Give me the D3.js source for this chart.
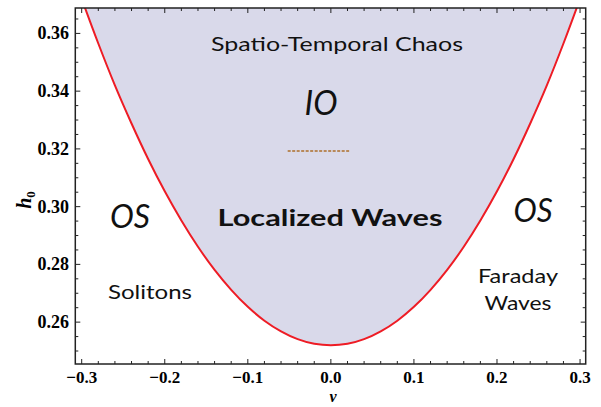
<!DOCTYPE html>
<html><head><meta charset="utf-8">
<script src="https://cdn.jsdelivr.net/npm/d3@7"></script>
<style>body{margin:0;background:#fff}
.serif{font-family:"Liberation Serif","Times New Roman","DejaVu Serif",serif;font-weight:bold}
.sans{font-family:Lato,"Open Sans",sans-serif}
</style>
</head><body>
<svg id="c" width="601" height="407"></svg>
<script>
// boundary curve (nu, h0)
const nuVals = [-0.31,-0.30,-0.28,-0.26,-0.24,-0.22,-0.20,-0.18,-0.16,-0.14,-0.12,-0.10,-0.08,-0.06,-0.04,-0.02,0.00,
                0.02,0.04,0.06,0.08,0.10,0.12,0.14,0.16,0.18,0.20,0.22,0.24,0.26,0.28,0.30,0.31];
const hVals  = [0.380,0.372,0.3565,0.342,0.3288,0.3165,0.3053,0.2952,0.2861,0.2781,0.2712,0.2653,0.2605,0.2568,0.2541,0.2525,0.2520,
                0.2525,0.2541,0.2568,0.2605,0.2653,0.2712,0.2781,0.2861,0.2952,0.3053,0.3165,0.3288,0.342,0.3565,0.372,0.380];
// dashed IO segment
const ioNu = [-0.052, 0.022];
const ioH = 0.3193;
const xTicks = [-0.3,-0.2,-0.1,0.0,0.1,0.2,0.3];
const xTickLabels = ["\u22120.3","\u22120.2","\u22120.1","0.0","0.1","0.2","0.3"];
const yTicks = [0.26,0.28,0.30,0.32,0.34,0.36];
const yTickLabels = ["0.26","0.28","0.30","0.32","0.34","0.36"];

const svg = d3.select("#c");
const L=75.3, R=585.7, T=8, B=364;
const x = d3.scaleLinear().domain([-0.3077,0.3068]).range([L,R]);
const y = d3.scaleLinear().domain([0.2455,0.3688]).range([B,T]);

svg.append("clipPath").attr("id","clip").append("rect")
  .attr("x",L).attr("y",T).attr("width",R-L).attr("height",B-T);

const pts = nuVals.map((v,i)=>[v,hVals[i]]);
const g = svg.append("g").attr("clip-path","url(#clip)");
g.append("path").datum(pts)
  .attr("d", d3.area().x(d=>x(d[0])).y0(T-5).y1(d=>y(d[1])).curve(d3.curveMonotoneX))
  .attr("fill","#d9d9ea");
g.append("path").datum(pts)
  .attr("d", d3.line().x(d=>x(d[0])).y(d=>y(d[1])).curve(d3.curveMonotoneX))
  .attr("fill","none").attr("stroke","#ee1c25").attr("stroke-width",2);
g.append("line").attr("x1",x(ioNu[0])).attr("x2",x(ioNu[1])).attr("y1",y(ioH)).attr("y2",y(ioH))
  .attr("stroke","#b8895a").attr("stroke-width",2).attr("stroke-dasharray","3,1.5");

// frame ticks
const tk = svg.append("g").attr("stroke","#222").attr("stroke-width",1);
const xMinor = d3.range(-0.30,0.3001,0.02).map(v=>+v.toFixed(3));
const yMinor = d3.range(0.250,0.3681,0.005).map(v=>+v.toFixed(3));
xMinor.forEach(v=>{
  const maj = xTicks.some(t=>Math.abs(t-v)<1e-6);
  const len = maj?5:3;
  tk.append("line").attr("x1",x(v)).attr("x2",x(v)).attr("y1",B).attr("y2",B-len);
  tk.append("line").attr("x1",x(v)).attr("x2",x(v)).attr("y1",T).attr("y2",T+len);
});
yMinor.forEach(v=>{
  const maj = yTicks.some(t=>Math.abs(t-v)<1e-6);
  const len = maj?5:3;
  tk.append("line").attr("y1",y(v)).attr("y2",y(v)).attr("x1",L).attr("x2",L+len);
  tk.append("line").attr("y1",y(v)).attr("y2",y(v)).attr("x1",R).attr("x2",R-len);
});
svg.append("rect").attr("x",L).attr("y",T).attr("width",R-L).attr("height",B-T)
  .attr("fill","none").attr("stroke","#222").attr("stroke-width",1.5);

svg.append("g").selectAll("text").data(xTicks).join("text").attr("class","serif")
  .attr("x",d=>x(d)).attr("y",383).attr("text-anchor","middle").attr("font-size",17)
  .text((d,i)=>xTickLabels[i]);
svg.append("g").selectAll("text").data(yTicks).join("text").attr("class","serif")
  .attr("x",69).attr("y",d=>y(d)+6).attr("text-anchor","end").attr("font-size",18)
  .text((d,i)=>yTickLabels[i]);

svg.append("text").attr("class","serif").attr("x",333).attr("y",402).attr("text-anchor","middle")
  .attr("font-style","italic").attr("font-size",16).text("\u03bd");
const yl = svg.append("text").attr("class","serif").attr("transform","translate(31,200) rotate(-90)")
  .attr("text-anchor","middle").attr("font-size",20);
yl.append("tspan").attr("font-style","italic").text("h");
yl.append("tspan").attr("font-size",13).attr("dy",4).text("0");

function lab(t,xx,yy,fs,opts={}){
  const e = svg.append("text").attr("class","sans").attr("x",xx).attr("y",yy).attr("text-anchor","middle")
    .attr("font-size",fs).attr("fill","#111").text(t);
  if(opts.italic) e.attr("font-style","italic");
  if(opts.bold) e.attr("font-weight","bold");
  if(opts.w) e.attr("textLength",opts.w).attr("lengthAdjust","spacingAndGlyphs");
  return e;
}
lab("Spatio-Temporal Chaos",337,51,20,{w:252});
lab("IO",321,115,34,{italic:true,w:33});
lab("Localized Waves",330,226,23,{bold:true,w:225});
lab("OS",130,228,32,{italic:true,w:40});
lab("OS",533,222,32,{italic:true,w:39});
lab("Solitons",150,299,20,{w:84});
lab("Faraday",518,283,20,{w:80});
lab("Waves",518,310,20,{w:67});
</script>
</body></html>
